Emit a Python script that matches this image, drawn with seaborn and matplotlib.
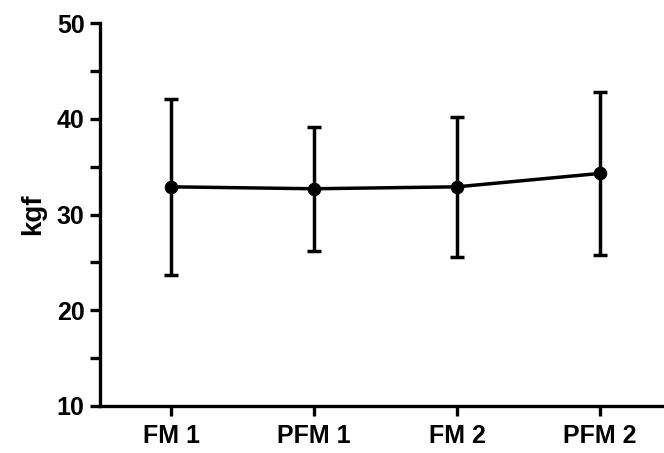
import matplotlib
matplotlib.use("Agg")
import matplotlib.pyplot as plt
import seaborn as sns
import pandas as pd
from matplotlib.ticker import MultipleLocator

groups = ["FM 1", "PFM 1", "FM 2", "PFM 2"]
means = [32.9, 32.7, 32.9, 34.3]
sds = [9.2, 6.5, 7.3, 8.5]

df = pd.DataFrame({"group": groups, "kgf": means})

sns.set_style("ticks")
plt.rcParams['font.family'] = ['Liberation Sans', 'DejaVu Sans']
plt.rcParams['font.weight'] = 'bold'

fig = plt.figure(figsize=(6.64, 4.53), dpi=100)
ax = fig.add_axes([0.1506, 0.1038, 0.8494, 0.845])

sns.lineplot(data=df, x="group", y="kgf", color="black", linewidth=2.5,
             marker="o", markersize=9, markeredgecolor="black", sort=False, ax=ax)
ax.errorbar(range(len(groups)), means, yerr=sds, fmt="none", ecolor="black",
            elinewidth=2.5, capsize=5, capthick=2.5)

ax.set_ylim(10, 50)
ax.set_xlim(-0.5, 3.45)
ax.yaxis.set_major_locator(MultipleLocator(10))
ax.yaxis.set_minor_locator(MultipleLocator(5))
ax.set_xlabel("")
ax.set_ylabel("kgf", fontsize=20, fontweight="bold", color="black", labelpad=8)
sns.despine(ax=ax)
for s in ["left", "bottom"]:
    ax.spines[s].set_linewidth(2.4)
    ax.spines[s].set_color("black")
ax.tick_params(axis="both", which="major", width=2.4, length=7, labelsize=18,
               colors="black", pad=4)
ax.tick_params(axis="x", which="major", pad=6)
ax.tick_params(axis="y", which="minor", width=2.4, length=7, colors="black")
for lbl in ax.get_xticklabels() + ax.get_yticklabels():
    lbl.set_fontweight("bold")

plt.savefig("out.png", dpi=100)
